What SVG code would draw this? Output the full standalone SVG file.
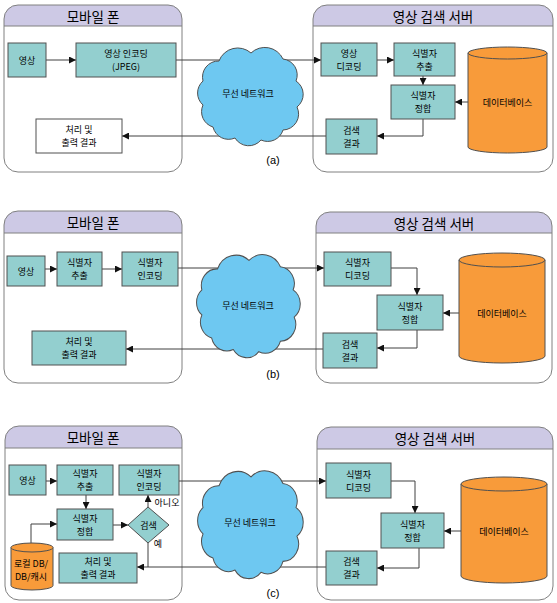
<svg xmlns="http://www.w3.org/2000/svg" width="557" height="603" viewBox="0 0 557 603">
<style>
text{font-family:"Noto Sans CJK KR","Noto Sans",sans-serif;fill:#000;text-anchor:middle;dominant-baseline:central}
.hd{font-size:13.5px}
.t{font-size:9px}
.lb{font-size:11px;font-family:"Liberation Sans",sans-serif}
.frame{fill:none;stroke:#808080;stroke-width:1}
.head{fill:#CDC9E5}
.sep{stroke:#808080;stroke-width:1}
.n{fill:#93CFCF;stroke:#505050;stroke-width:1}
.w{fill:#fff;stroke:#505050;stroke-width:1}
.db{fill:#F89B3A;stroke:#505050;stroke-width:1}
.cl{fill:#6EC8F1;stroke:#505050;stroke-width:1}
.c{fill:none;stroke:#404040;stroke-width:1}
.a{marker-end:url(#ah)}
</style>
<defs>
<marker id="ah" markerWidth="7" markerHeight="7" refX="7" refY="3.5" orient="auto" markerUnits="userSpaceOnUse"><path d="M0,0 L7,3.5 L0,7 z" fill="#111"/></marker>
<path id="cloud" d="M24,18 A20,20 0 0 1 56,10 A20,20 0 0 1 88,16 A16,16 0 0 1 101,38 A16,16 0 0 1 102,64 A16,16 0 0 1 88,87 A16,16 0 0 1 66,97 A16,16 0 0 1 40,95 A16,16 0 0 1 18,84 A16,16 0 0 1 8,62 A16,16 0 0 1 8,38 A16,16 0 0 1 24,18 Z"/>
</defs>

<g id="frames">
<g id="mobile-a"><path class="head" d="M4,26 V19 A14,14 0 0 1 18,5 H168 A14,14 0 0 1 182,19 V26 Z"/><rect class="frame" x="4" y="5" width="178" height="167" rx="14"/><line class="sep" x1="4" y1="26" x2="182" y2="26"/><text class="hd" x="93" y="15.5">모바일 폰</text></g>
<g id="server-a"><path class="head" d="M313,26 V19 A14,14 0 0 1 327,5 H539 A14,14 0 0 1 553,19 V26 Z"/><rect class="frame" x="313" y="5" width="240" height="167" rx="14"/><line class="sep" x1="313" y1="26" x2="553" y2="26"/><text class="hd" x="433" y="15.5">영상 검색 서버</text></g>
<g id="mobile-b"><path class="head" d="M4,233 V225 A14,14 0 0 1 18,211 H168 A14,14 0 0 1 182,225 V233 Z"/><rect class="frame" x="4" y="211" width="178" height="172" rx="14"/><line class="sep" x1="4" y1="233" x2="182" y2="233"/><text class="hd" x="93" y="222">모바일 폰</text></g>
<g id="server-b"><path class="head" d="M316,233 V226 A14,14 0 0 1 330,212 H538 A14,14 0 0 1 552,226 V233 Z"/><rect class="frame" x="316" y="212" width="236" height="171" rx="14"/><line class="sep" x1="316" y1="233" x2="552" y2="233"/><text class="hd" x="434" y="222.5">영상 검색 서버</text></g>
<g id="mobile-c"><path class="head" d="M5,448 V440 A14,14 0 0 1 19,426 H168 A14,14 0 0 1 182,440 V448 Z"/><rect class="frame" x="5" y="426" width="177" height="174" rx="14"/><line class="sep" x1="5" y1="448" x2="182" y2="448"/><text class="hd" x="93" y="437">모바일 폰</text></g>
<g id="server-c"><path class="head" d="M317,449 V441 A14,14 0 0 1 331,427 H539 A14,14 0 0 1 553,441 V449 Z"/><rect class="frame" x="317" y="427" width="236" height="173" rx="14"/><line class="sep" x1="317" y1="449" x2="553" y2="449"/><text class="hd" x="435" y="438">영상 검색 서버</text></g>
</g>

<g id="connectors">
<path class="c a" d="M46,60 H76"/>
<path class="c a" d="M176,60 H321"/>
<path class="c a" d="M326,136 H122"/>
<path class="c a" d="M377,60 H394"/>
<path class="c a" d="M423,76 V85"/>
<path class="c a" d="M468,102 H455"/>
<path class="c a" d="M423,119 V136 H377"/>
<path class="c a" d="M45,269 H57"/>
<path class="c a" d="M102,269 H122"/>
<path class="c a" d="M178,268 H324"/>
<path class="c a" d="M323,349 H126"/>
<path class="c a" d="M391,268 H417 V295"/>
<path class="c a" d="M459,313 H443"/>
<path class="c a" d="M417,330 V348 H377"/>
<path class="c a" d="M46,481 H57"/>
<path class="c a" d="M86,495 V509"/>
<path class="c a" d="M113,525 H128"/>
<path class="c a" d="M148,507 V495"/>
<path class="c a" d="M179,481 H326"/>
<path class="c a" d="M326,567 H137"/>
<path class="c" d="M148,543 V567"/>
<path class="c a" d="M31,543 V524 H57"/>
<path class="c a" d="M391,481 H415 V513"/>
<path class="c a" d="M461,531 H444"/>
<path class="c a" d="M419,548 V568 H377"/>
</g>

<g id="a-image"><rect class="n" x="8" y="43" width="38" height="34"/><text class="t" x="27" y="60">영상</text></g>
<g id="a-encode"><rect class="n" x="76" y="43" width="100" height="34"/><text class="t" x="126" y="53.5">영상 인코딩</text><text class="t" x="126" y="66.5">(JPEG)</text></g>
<g id="a-output"><rect class="w" x="36" y="119" width="86" height="34"/><text class="t" x="79" y="129.5">처리 및</text><text class="t" x="79" y="142.5">출력 결과</text></g>
<g id="a-cloud"><use href="#cloud" class="cl" transform="translate(195,43)"/><text class="t" x="248" y="93">무선 네트워크</text></g>
<g id="a-decode"><rect class="n" x="321" y="43" width="56" height="33"/><text class="t" x="349" y="53">영상</text><text class="t" x="349" y="66">디코딩</text></g>
<g id="a-extract"><rect class="n" x="394" y="43" width="61" height="33"/><text class="t" x="424.5" y="53">식별자</text><text class="t" x="424.5" y="66">추출</text></g>
<g id="a-match"><rect class="n" x="391" y="85" width="64" height="34"/><text class="t" x="423" y="95.5">식별자</text><text class="t" x="423" y="108.5">정합</text></g>
<g id="a-result"><rect class="n" x="326" y="119" width="51" height="35"/><text class="t" x="351.5" y="130">검색</text><text class="t" x="351.5" y="143">결과</text></g>
<g id="a-db"><path class="db" d="M468,53 V147 A39.5,6 0 0 0 547,147 V53 A39.5,6 0 0 0 468,53 Z"/><path class="db" d="M468,53 A39.5,6 0 0 0 547,53"/><text class="t" x="507.5" y="102">데이터베이스</text></g>
<text class="lb" x="273" y="160">(a)</text>

<g id="b-image"><rect class="n" x="7" y="256" width="38" height="30"/><text class="t" x="26" y="271">영상</text></g>
<g id="b-extract"><rect class="n" x="57" y="252" width="45" height="34"/><text class="t" x="79.5" y="262.5">식별자</text><text class="t" x="79.5" y="275.5">추출</text></g>
<g id="b-encode"><rect class="n" x="122" y="252" width="56" height="34"/><text class="t" x="150" y="262.5">식별자</text><text class="t" x="150" y="275.5">인코딩</text></g>
<g id="b-output"><rect class="n" x="32" y="331" width="94" height="34"/><text class="t" x="79" y="341.5">처리 및</text><text class="t" x="79" y="354.5">출력 결과</text></g>
<g id="b-cloud"><use href="#cloud" class="cl" transform="translate(194,250) scale(0.982,1.048)"/><text class="t" x="248" y="305">무선 네트워크</text></g>
<g id="b-decode"><rect class="n" x="324" y="252" width="67" height="34"/><text class="t" x="357.5" y="262.5">식별자</text><text class="t" x="357.5" y="275.5">디코딩</text></g>
<g id="b-match"><rect class="n" x="377" y="295" width="66" height="35"/><text class="t" x="410" y="306">식별자</text><text class="t" x="410" y="319">정합</text></g>
<g id="b-result"><rect class="n" x="323" y="333" width="54" height="35"/><text class="t" x="350" y="344">검색</text><text class="t" x="350" y="357">결과</text></g>
<g id="b-db"><path class="db" d="M459,260 V356 A43,7 0 0 0 545,356 V260 A43,7 0 0 0 459,260 Z"/><path class="db" d="M459,260 A43,7 0 0 0 545,260"/><text class="t" x="502" y="313">데이터베이스</text></g>
<text class="lb" x="273" y="374">(b)</text>

<g id="c-image"><rect class="n" x="9" y="465" width="37" height="30"/><text class="t" x="27.5" y="480">영상</text></g>
<g id="c-extract"><rect class="n" x="57" y="465" width="56" height="30"/><text class="t" x="85" y="473.5">식별자</text><text class="t" x="85" y="486.5">추출</text></g>
<g id="c-encode"><rect class="n" x="119" y="465" width="60" height="30"/><text class="t" x="149" y="473.5">식별자</text><text class="t" x="149" y="486.5">인코딩</text></g>
<g id="c-match"><rect class="n" x="57" y="509" width="56" height="31"/><text class="t" x="85" y="518">식별자</text><text class="t" x="85" y="531">정합</text></g>
<g id="c-search"><path class="n" d="M148,507 L169,525 L148,543 L128,525 Z"/><text class="t" x="148.5" y="525">검색</text></g>
<text class="t" x="167" y="502">아니오</text>
<text class="t" x="158" y="543">예</text>
<g id="c-output"><rect class="n" x="59" y="553" width="78" height="30"/><text class="t" x="98" y="561.5">처리 및</text><text class="t" x="98" y="574.5">출력 결과</text></g>
<g id="c-localdb"><path class="db" d="M11,547.5 V585.5 A21,4.5 0 0 0 53,585.5 V547.5 A21,4.5 0 0 0 11,547.5 Z"/><path class="db" d="M11,547.5 A21,4.5 0 0 0 53,547.5"/><text class="t" x="31" y="563">로컬 DB/</text><text class="t" x="31" y="576">DB/캐시</text></g>
<g id="c-cloud"><use href="#cloud" class="cl" transform="translate(195,466) scale(1,1.096)"/><text class="t" x="250" y="522">무선 네트워크</text></g>
<g id="c-decode"><rect class="n" x="326" y="463" width="65" height="35"/><text class="t" x="358.5" y="474">식별자</text><text class="t" x="358.5" y="487">디코딩</text></g>
<g id="c-match2"><rect class="n" x="381" y="513" width="63" height="35"/><text class="t" x="412.5" y="524">식별자</text><text class="t" x="412.5" y="537">정합</text></g>
<g id="c-result"><rect class="n" x="326" y="551" width="51" height="34"/><text class="t" x="351.5" y="561.5">검색</text><text class="t" x="351.5" y="574.5">결과</text></g>
<g id="c-db"><path class="db" d="M461,484 V576 A43,7 0 0 0 547,576 V484 A43,7 0 0 0 461,484 Z"/><path class="db" d="M461,484 A43,7 0 0 0 547,484"/><text class="t" x="504" y="531">데이터베이스</text></g>
<text class="lb" x="273" y="593">(c)</text>
</svg>
